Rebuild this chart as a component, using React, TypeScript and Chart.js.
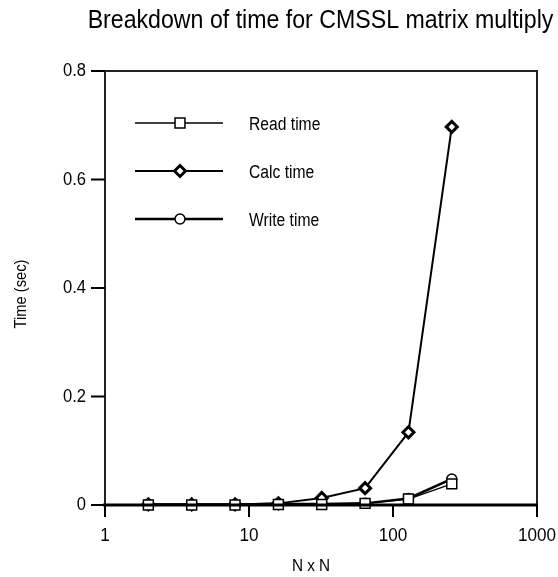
import React, { useEffect, useRef } from "react";
import { Chart, registerables } from "chart.js";

Chart.register(...registerables);

const sizes = [2, 4, 8, 16, 32, 64, 128, 256];
const readTime = [0, 0, 0, 0.001, 0.001, 0.003, 0.011, 0.039];
const calcTime = [0.001, 0.001, 0.001, 0.003, 0.013, 0.031, 0.134, 0.697];
const writeTime = [0.001, 0.001, 0.001, 0.002, 0.002, 0.003, 0.012, 0.048];
const xTicks = [1, 10, 100, 1000];
const yTicks = [0, 0.2, 0.4, 0.6, 0.8];
const seriesNames = ["Read time", "Calc time", "Write time"];

const FONT = "'Liberation Sans', Arial, sans-serif";

function drawText(
  ctx: CanvasRenderingContext2D,
  text: string,
  x: number,
  y: number,
  size: number,
  sx: number,
  align: CanvasTextAlign,
  baseline: CanvasTextBaseline = "middle",
  weight = "normal"
) {
  ctx.save();
  ctx.translate(x, y);
  ctx.scale(sx, 1);
  ctx.font = `${weight} ${size}px ${FONT}`;
  ctx.textAlign = align;
  ctx.textBaseline = baseline;
  ctx.fillStyle = "#000";
  ctx.fillText(text, 0, 0);
  ctx.restore();
}

const frameAndText = {
  id: "frameAndText",
  afterDraw(chart: any) {
    const { ctx, chartArea, scales } = chart;
    const { left, right, top, bottom } = chartArea;
    ctx.save();
    ctx.strokeStyle = "#222";
    ctx.lineWidth = 2;
    ctx.strokeRect(left, top, right - left, bottom - top);
    ctx.strokeStyle = "#000";
    ctx.lineWidth = 3;
    ctx.beginPath();
    ctx.moveTo(left - 2, bottom);
    ctx.lineTo(right + 1, bottom);
    ctx.stroke();

    ctx.lineWidth = 2;
    yTicks.forEach((v) => {
      const y = scales.y.getPixelForValue(v);
      ctx.beginPath();
      ctx.moveTo(left - 14, y);
      ctx.lineTo(left, y);
      ctx.stroke();
      drawText(ctx, v === 0 ? "0" : String(v), left - 19, y + 0.5, 18, 0.92, "right");
    });
    xTicks.forEach((v) => {
      const x = scales.x.getPixelForValue(v);
      ctx.beginPath();
      ctx.moveTo(x, bottom);
      ctx.lineTo(x, bottom + 12);
      ctx.stroke();
      drawText(ctx, String(v), x, bottom + 31, 18, 0.95, "center");
    });

    drawText(ctx, "Breakdown of time for CMSSL matrix multiply", 320.5, 28, 25, 0.926, "center", "alphabetic");
    drawText(ctx, "N x N", 311, 566.5, 17, 0.9, "center");
    ctx.save();
    ctx.translate(22, 294);
    ctx.rotate(-Math.PI / 2);
    drawText(ctx, "Time (sec)", 0, 0, 16, 0.92, "center");
    ctx.restore();

    const rows = [123, 171, 219];
    chart.data.datasets.forEach((ds: any, i: number) => {
      const y = rows[i];
      ctx.strokeStyle = "#000";
      ctx.lineWidth = ds.borderWidth;
      ctx.beginPath();
      ctx.moveTo(135, y);
      ctx.lineTo(223, y);
      ctx.stroke();
      ctx.lineWidth = ds.pointBorderWidth;
      ctx.fillStyle = ds.pointBackgroundColor;
      const x = 180;
      const r = ds.pointRadius;
      ctx.beginPath();
      if (ds.pointStyle === "rect") {
        const h = r * Math.SQRT1_2;
        ctx.rect(x - h, y - h, 2 * h, 2 * h);
      } else if (ds.pointStyle === "rectRot") {
        ctx.moveTo(x, y - r);
        ctx.lineTo(x + r, y);
        ctx.lineTo(x, y + r);
        ctx.lineTo(x - r, y);
        ctx.closePath();
      } else {
        ctx.arc(x, y, r, 0, Math.PI * 2);
      }
      ctx.fill();
      ctx.stroke();
      drawText(ctx, ds.label, 249, y + 2, 18, 0.87, "left");
    });
    ctx.restore();
  },
};

export default function App() {
  const ref = useRef<HTMLCanvasElement>(null);
  useEffect(() => {
    const mk = (vals: number[]) => sizes.map((x, i) => ({ x, y: vals[i] }));
    const chart = new Chart(ref.current as HTMLCanvasElement, {
      type: "line",
      data: {
        datasets: [
          {
            label: seriesNames[0],
            data: mk(readTime),
            borderColor: "#000",
            borderWidth: 1.3,
            pointStyle: "rect",
            pointRadius: 7,
            pointBorderWidth: 1.5,
            pointBackgroundColor: "#fff",
            pointBorderColor: "#000",
            clip: false,
          },
          {
            label: seriesNames[1],
            data: mk(calcTime),
            borderColor: "#000",
            borderWidth: 2,
            pointStyle: "rectRot",
            pointRadius: 5.5,
            pointBorderWidth: 3,
            pointBackgroundColor: "#fff",
            pointBorderColor: "#000",
            clip: false,
          },
          {
            label: seriesNames[2],
            data: mk(writeTime),
            borderColor: "#000",
            borderWidth: 2.5,
            pointStyle: "circle",
            pointRadius: 5,
            pointBorderWidth: 1.5,
            pointBackgroundColor: "#fff",
            pointBorderColor: "#000",
            clip: false,
          },
        ] as any,
      },
      options: {
        animation: false,
        responsive: false,
        layout: { padding: { top: 71, right: 21, left: 0, bottom: 0 } },
        plugins: { legend: { display: false }, title: { display: false }, tooltip: { enabled: false } },
        scales: {
          x: {
            type: "logarithmic",
            min: 1,
            max: 1000,
            afterBuildTicks: (s: any) => {
              s.ticks = xTicks.map((v) => ({ value: v }));
            },
            afterFit: (s: any) => {
              s.height = 72;
              s.paddingLeft = 0;
              s.paddingRight = 0;
            },
            grid: { display: false },
            border: { display: false },
            ticks: { display: false },
          },
          y: {
            type: "linear",
            min: 0,
            max: 0.8,
            afterBuildTicks: (s: any) => {
              s.ticks = yTicks.map((v) => ({ value: v }));
            },
            afterFit: (s: any) => {
              s.width = 105;
              s.paddingTop = 0;
              s.paddingBottom = 0;
            },
            grid: { display: false },
            border: { display: false },
            ticks: { display: false },
          },
        },
      },
      plugins: [frameAndText],
    });
    return () => chart.destroy();
  }, []);
  return (
    <div style={{ position: "absolute", left: 0, top: 0, width: 558, height: 577, background: "#fff" }}>
      <canvas ref={ref} width={558} height={577} />
    </div>
  );
}
